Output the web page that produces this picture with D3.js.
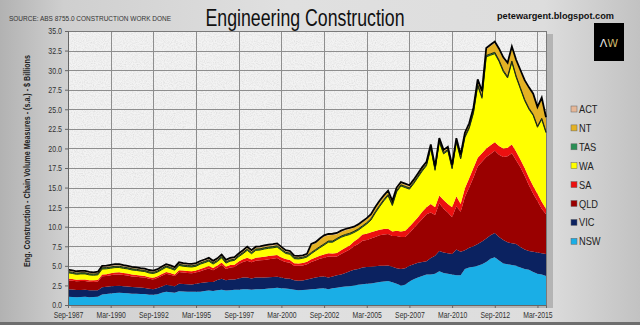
<!DOCTYPE html>
<html><head><meta charset="utf-8">
<script src="https://cdn.jsdelivr.net/npm/d3@7"></script>
<style>html,body{margin:0;padding:0;background:#d8d8d8;} svg{display:block}</style>
</head><body><svg id="c" width="640" height="325"></svg>
<script>
const tickLabels = ["Sep-1987","Mar-1990","Sep-1992","Mar-1995","Sep-1997","Mar-2000","Sep-2002","Mar-2005","Sep-2007","Mar-2010","Sep-2012","Mar-2015"];
const yTicks = [0,2.5,5,7.5,10,12.5,15,17.5,20,22.5,25,27.5,30,32.5,35];
const seriesNames = ["NSW","VIC","QLD","SA","WA","TAS","NT","ACT"];
const legendOrder = ["ACT","NT","TAS","WA","SA","QLD","VIC","NSW"];
const colors = {NSW:"#1aaee6",VIC:"#0b2260",QLD:"#9a0000",SA:"#ec1010",WA:"#ffff00",TAS:"#2a8f55",NT:"#e4b224",ACT:"#e6b797"};

const NSW = [1.05,1.02,1.00,1.03,1.05,1.00,1.02,1.05,
1.35,1.42,1.48,1.52,1.55,1.52,1.50,1.45,1.45,1.42,1.40,1.32,1.30,
1.38,1.55,1.70,1.62,1.55,1.75,1.72,1.70,1.68,1.70,1.70,1.80,1.85,
1.80,1.90,1.95,1.85,1.90,1.95,1.95,2.00,2.00,1.95,2.00,2.02,2.05,2.10,2.15,2.20,2.15,
2.10,2.05,1.95,1.90,1.92,1.95,2.00,2.05,2.10,2.15,2.00,2.15,
2.20,2.30,2.35,2.40,2.50,2.60,2.65,2.70,2.75,2.85,2.95,3.00,3.08,
2.90,2.70,2.50,2.60,3.00,3.30,3.50,3.70,3.90,3.90,4.00,4.30,4.10,4.00,3.90,3.80,3.80,
4.60,4.80,4.90,5.00,5.20,5.50,5.90,6.10,5.70,5.30,5.20,5.10,5.00,4.80,4.60,4.50,4.20,4.00,3.90,3.70];
const VIC = [0.95,0.95,0.92,0.90,0.90,0.88,0.88,0.85,
0.92,0.90,0.90,0.92,0.90,0.88,0.86,0.85,0.82,0.80,0.78,0.74,0.72,
0.78,0.82,0.90,0.88,0.85,0.95,0.95,0.95,0.95,1.00,1.10,1.08,1.10,
1.15,1.30,1.40,1.30,1.35,1.30,1.45,1.50,1.50,1.45,1.50,1.50,1.45,1.45,1.42,1.40,1.35,
1.30,1.30,1.20,1.20,1.22,1.30,1.40,1.45,1.50,1.50,1.50,1.50,
1.60,1.60,1.75,1.90,2.00,2.00,2.15,2.15,2.15,2.10,2.05,2.00,1.97,
2.00,2.00,2.10,2.10,2.00,1.90,1.90,1.80,1.70,2.10,2.30,2.60,2.60,2.60,2.60,3.30,3.00,
2.40,2.50,2.60,2.80,2.90,3.00,3.00,3.10,3.00,3.00,2.80,2.80,2.80,2.60,2.50,2.40,2.60,2.70,2.70,2.80];
const QLD = [1.15,1.12,1.10,1.12,1.10,1.08,1.05,1.10,
1.40,1.40,1.42,1.45,1.46,1.42,1.40,1.35,1.35,1.33,1.33,1.28,1.25,
1.32,1.38,1.40,1.38,1.30,1.50,1.48,1.45,1.42,1.45,1.50,1.62,1.72,
1.50,1.55,1.75,1.45,1.55,1.60,1.85,2.00,2.15,2.05,2.15,2.20,2.25,2.30,2.35,2.40,2.20,
2.10,2.05,1.85,1.90,1.90,1.95,2.10,2.20,2.30,2.40,2.70,2.50,
2.40,2.60,2.70,2.80,3.00,3.20,3.40,3.45,3.60,3.75,3.90,4.00,4.01,
3.90,4.10,4.10,4.00,4.20,4.60,5.00,5.50,6.00,5.80,5.20,6.10,5.60,5.20,4.70,5.50,5.10,
6.80,7.70,8.80,9.90,10.20,10.40,10.40,10.50,10.50,10.60,11.00,11.50,10.70,10.20,9.40,8.40,7.40,6.60,5.70,5.10];
const SA = [0.22,0.22,0.20,0.20,0.22,0.20,0.20,0.20,
0.22,0.22,0.25,0.27,0.28,0.26,0.25,0.24,0.22,0.22,0.20,0.20,0.20,
0.20,0.22,0.22,0.20,0.20,0.25,0.25,0.24,0.25,0.25,0.30,0.30,0.30,
0.28,0.30,0.32,0.30,0.30,0.30,0.32,0.35,0.38,0.35,0.38,0.38,0.40,0.40,0.40,0.40,0.38,
0.38,0.36,0.32,0.30,0.32,0.33,0.35,0.38,0.40,0.40,0.42,0.42,
0.45,0.50,0.50,0.50,0.60,0.70,0.80,0.80,0.80,0.75,0.70,0.70,0.69,
0.60,0.70,0.70,0.80,0.80,0.80,0.80,0.90,0.90,1.10,1.00,1.00,1.10,1.10,1.30,1.30,1.00,
1.10,1.20,1.20,1.10,1.10,1.10,1.10,1.10,1.10,1.10,1.10,1.10,1.10,1.00,1.00,1.00,1.00,0.90,0.90,0.70];
const WA = [0.75,0.72,0.70,0.72,0.70,0.68,0.65,0.65,
0.70,0.68,0.65,0.62,0.60,0.60,0.60,0.58,0.58,0.56,0.56,0.55,0.55,
0.52,0.55,0.60,0.58,0.55,0.60,0.55,0.55,0.55,0.55,0.62,0.60,0.63,
0.50,0.50,0.60,0.45,0.50,0.55,0.60,0.70,0.95,0.75,0.95,0.92,1.00,0.99,0.98,1.00,0.90,
0.70,0.72,0.60,0.58,0.60,0.60,0.70,0.85,1.00,1.20,1.40,1.45,
1.70,1.65,1.55,1.40,1.15,1.05,0.95,1.25,1.55,2.30,2.95,3.60,4.20,
3.30,4.95,5.80,5.50,4.80,4.90,5.10,5.20,5.30,7.10,4.70,6.80,5.90,6.80,4.90,6.90,5.75,
6.50,6.35,7.00,9.20,7.00,11.70,11.50,11.30,10.80,9.80,8.90,10.50,9.50,9.00,8.60,8.70,9.00,8.50,10.50,9.70];
const TAS = [0.15,0.15,0.14,0.15,0.15,0.14,0.14,0.15,0.16,0.16,0.15,0.16,0.16,0.15,0.15,0.15,0.14,0.14,0.14,0.14,
0.14,0.14,0.15,0.15,0.15,0.14,0.15,0.15,0.15,0.15,0.15,0.15,0.16,0.16,0.15,0.15,0.16,0.15,0.15,0.15,
0.15,0.15,0.16,0.15,0.16,0.16,0.16,0.16,0.16,0.16,0.15,0.15,0.15,0.14,0.14,0.14,0.15,0.15,0.15,0.15,
0.15,0.15,0.15,0.15,0.15,0.16,0.16,0.16,0.16,0.16,0.16,0.17,0.17,0.17,0.16,0.16,0.15,0.15,0.15,0.15,
0.15,0.16,0.16,0.16,0.15,0.15,0.15,0.16,0.16,0.15,0.15,0.15,0.15,0.16,0.16,0.16,0.17,0.17,0.18,0.18,
0.18,0.18,0.17,0.17,0.17,0.16,0.16,0.16,0.15,0.15,0.15,0.15,0.14];
const NT = [0.10,0.10,0.10,0.09,0.09,0.10,0.10,0.10,0.10,0.10,0.11,0.11,0.11,0.10,0.10,0.10,0.10,0.10,0.10,0.10,
0.10,0.10,0.10,0.10,0.10,0.10,0.10,0.10,0.10,0.10,0.10,0.10,0.10,0.10,0.10,0.10,0.11,0.11,0.10,0.10,
0.10,0.14,0.15,0.15,0.15,0.15,0.15,0.15,0.15,0.15,0.15,0.12,0.12,0.10,0.10,0.10,0.10,0.95,0.80,0.90,
0.95,0.75,0.78,0.55,0.55,0.55,0.55,0.45,0.45,0.45,0.45,0.45,0.45,0.45,0.40,0.35,0.30,0.25,0.20,0.20,
0.20,0.20,0.20,0.20,0.20,0.20,0.20,0.20,0.20,0.20,0.20,0.20,0.25,0.30,0.35,0.40,0.50,0.60,0.80,1.00,
1.20,1.30,1.50,1.60,1.70,1.90,2.10,2.30,2.50,2.50,2.30,2.50,1.70];
const ACT = [0.15,0.15,0.15,0.15,0.14,0.14,0.14,0.15,0.15,0.16,0.16,0.16,0.15,0.15,0.15,0.15,0.15,0.14,0.14,0.14,
0.14,0.14,0.15,0.15,0.15,0.15,0.15,0.15,0.15,0.15,0.15,0.15,0.15,0.16,0.16,0.16,0.16,0.16,0.16,0.16,
0.16,0.16,0.16,0.16,0.16,0.16,0.16,0.16,0.16,0.16,0.15,0.15,0.15,0.15,0.15,0.15,0.15,0.15,0.15,0.15,
0.15,0.15,0.15,0.15,0.15,0.15,0.15,0.14,0.14,0.14,0.14,0.14,0.14,0.14,0.14,0.14,0.15,0.15,0.15,0.15,
0.15,0.15,0.15,0.15,0.15,0.15,0.15,0.15,0.15,0.15,0.15,0.15,0.15,0.15,0.15,0.15,0.15,0.15,0.15,0.16,
0.16,0.16,0.16,0.16,0.16,0.16,0.16,0.16,0.15,0.15,0.15,0.15,0.15];

const seriesData = {NSW, VIC, QLD, SA, WA, TAS, NT, ACT};
const monthNames = ["Mar","Jun","Sep","Dec"];
const quarters = NSW.map((_, i) => {
  const q = 2 + i; // Sep-1987 is quarter index 2 of 1987
  return monthNames[q % 4] + "-" + (1987 + Math.floor(q / 4));
});
const rows = quarters.map((q, i) => {
  const r = {q};
  seriesNames.forEach(s => r[s] = seriesData[s][i]);
  return r;
});

const svg = d3.select("#c");
const W = 640, H = 325;
const plot = {l: 68, r: 546, t: 31, b: 305};
const sans = "'Liberation Sans',Arial,sans-serif";
function squeeze(sel, f) {
  sel.each(function() {
    const w = this.getComputedTextLength();
    d3.select(this).attr("textLength", w * f).attr("lengthAdjust", "spacingAndGlyphs");
  });
}
function fitTo(sel, w) {
  sel.attr("textLength", w).attr("lengthAdjust", "spacingAndGlyphs");
}

const defs = svg.append("defs");
const bg = defs.append("linearGradient").attr("id","bg").attr("x1","0").attr("x2","1").attr("y1","0").attr("y2","0");
[[0,"#b2b2b2"],[0.1,"#cfcfcf"],[0.45,"#e0e0e0"],[0.85,"#dddddd"],[1,"#c2c2c2"]].forEach(([o,c]) =>
  bg.append("stop").attr("offset", o).attr("stop-color", c));
const pf = defs.append("filter").attr("id","speck").attr("x",0).attr("y",0).attr("width",1).attr("height",1);
pf.append("feTurbulence").attr("type","fractalNoise").attr("baseFrequency","0.9").attr("numOctaves","2").attr("seed","3").attr("result","n");
pf.append("feColorMatrix").attr("in","n").attr("type","matrix")
  .attr("values","0 0 0 0 0.55  0 0 0 0 0.55  0 0 0 0 0.55  0 0 0 -0.9 0.55").attr("result","m");
pf.append("feComposite").attr("in","m").attr("in2","SourceGraphic").attr("operator","in").attr("result","c");
pf.append("feMerge").call(m => { m.append("feMergeNode").attr("in","SourceGraphic"); m.append("feMergeNode").attr("in","c"); });

svg.append("rect").attr("width", W).attr("height", H).attr("fill", "url(#bg)");
svg.append("rect").attr("x",0).attr("y",H-3).attr("width",W).attr("height",3).attr("fill","#6e6e6e");

const x = d3.scalePoint().domain(quarters).range([plot.l, plot.r]);
const y = d3.scaleLinear().domain([0, 35]).range([plot.b, plot.t]);

// plot shadow and background
svg.append("rect").attr("x", plot.l + 3).attr("y", plot.t + 3).attr("width", plot.r - plot.l + 4).attr("height", plot.b - plot.t)
  .attr("fill", "#9a9a9a").attr("opacity", 0.6);
svg.append("rect").attr("x", plot.l).attr("y", plot.t).attr("width", plot.r - plot.l + 1).attr("height", plot.b - plot.t)
  .attr("fill", "#f3f3f3").attr("filter","url(#speck)");

// gridlines
svg.append("g").selectAll("line").data(yTicks.filter(d => d > 0)).join("line")
  .attr("x1", plot.l).attr("x2", plot.r + 1).attr("y1", d => Math.round(y(d)) + 0.5).attr("y2", d => Math.round(y(d)) + 0.5)
  .attr("stroke", "#8e8e8e").attr("stroke-width", 1);
svg.append("g").selectAll("line").data(tickLabels.slice(1)).join("line")
  .attr("x1", d => Math.round(x(d)) + 0.5).attr("x2", d => Math.round(x(d)) + 0.5).attr("y1", plot.t).attr("y2", plot.b)
  .attr("stroke", "#8e8e8e").attr("stroke-width", 1);
svg.append("rect").attr("x", plot.l + 0.5).attr("y", plot.t + 0.5).attr("width", plot.r - plot.l).attr("height", plot.b - plot.t)
  .attr("fill", "none").attr("stroke", "#7a7a7a");

// stacked areas
const stack = d3.stack().keys(seriesNames)(rows);
const area = d3.area().x(d => x(d.data.q)).y0(d => y(d[0])).y1(d => y(d[1]));
svg.append("g").selectAll("path").data(stack).join("path")
  .attr("d", area).attr("fill", d => colors[d.key]);
const topLine = d3.line().x(d => x(d.data.q)).y(d => y(d[1]));
svg.append("path").datum(stack[4]).attr("d", topLine).attr("fill","none").attr("stroke","#2b3a12").attr("stroke-width",1);
svg.append("path").datum(stack[5]).attr("d", topLine).attr("fill","none").attr("stroke","#1d2a10").attr("stroke-width",1);
svg.append("path").datum(stack[7]).attr("d", topLine).attr("fill","none").attr("stroke","#000").attr("stroke-width",1.8);

// axes
const yAxis = d3.axisLeft(y).tickValues(yTicks).tickFormat(d3.format(".1f")).tickSize(3).tickPadding(3);
const gy = svg.append("g").attr("transform", `translate(${plot.l},0)`).call(yAxis);
gy.select(".domain").attr("stroke", "#666");
gy.selectAll(".tick line").attr("stroke", "#666");
gy.selectAll("text").attr("font-family", sans).attr("font-size", 9).attr("fill", "#333").call(squeeze, 0.78);

const xAxis = d3.axisBottom(x).tickValues(tickLabels).tickSize(3).tickPadding(4);
const gx = svg.append("g").attr("transform", `translate(0,${plot.b})`).call(xAxis);
gx.select(".domain").attr("stroke", "#666");
gx.selectAll(".tick line").attr("stroke", "#666");
gx.selectAll("text").attr("font-family", sans).attr("font-size", 9).attr("fill", "#333").call(squeeze, 0.76);

// titles
svg.append("text").attr("x", 305).attr("y", 26).attr("text-anchor", "middle")
  .attr("font-family", sans).attr("font-size", 24).attr("fill", "#111").text("Engineering Construction").call(fitTo, 199);
svg.append("text").attr("x", 9).attr("y", 21).attr("font-family", sans).attr("font-size", 7.5).attr("fill", "#333")
  .text("SOURCE: ABS 8755.0 CONSTRUCTION WORK DONE").call(fitTo, 162);
svg.append("text").attr("x", 614).attr("y", 19).attr("text-anchor", "end").attr("font-family", sans)
  .attr("font-weight", "bold").attr("font-size", 9.5).attr("fill", "#111").text("petewargent.blogspot.com").call(fitTo, 117);
// y title: compressed with a transform so its real geometry is narrow
const ytitle = svg.append("text").attr("text-anchor", "middle")
  .attr("font-family", sans).attr("font-weight", "bold").attr("font-size", 9.5).attr("fill", "#222")
  .text("Eng. Construction - Chain Volume Measures - (s.a.) - $ Billions");
const natW = ytitle.node().getComputedTextLength();
ytitle.attr("transform", `translate(30,161) rotate(-90) scale(${212 / natW},1)`);

// logo
svg.append("rect").attr("x", 594).attr("y", 23).attr("width", 30).attr("height", 38).attr("fill", "#000");
const logo = svg.append("text").attr("x", 609).attr("y", 47).attr("text-anchor", "middle")
  .attr("font-family", "'DejaVu Sans',sans-serif").attr("font-size", 11);
logo.append("tspan").attr("fill", "#e8e8e8").text("Λ");
logo.append("tspan").attr("fill", "#cdb66a").text("W");

// legend
const lg = svg.append("g").selectAll("g").data(legendOrder).join("g")
  .attr("transform", (d, i) => `translate(571,${109 + i * 18.9})`);
lg.append("rect").attr("x", 0).attr("y", -3).attr("width", 6).attr("height", 6)
  .attr("fill", d => colors[d]).attr("stroke", "#666").attr("stroke-width", 0.5);
lg.append("text").attr("x", 8).attr("y", 4).attr("font-family", sans).attr("font-size", 11).attr("fill", "#222")
  .text(d => d).call(squeeze, 0.84);
</script></body></html>
